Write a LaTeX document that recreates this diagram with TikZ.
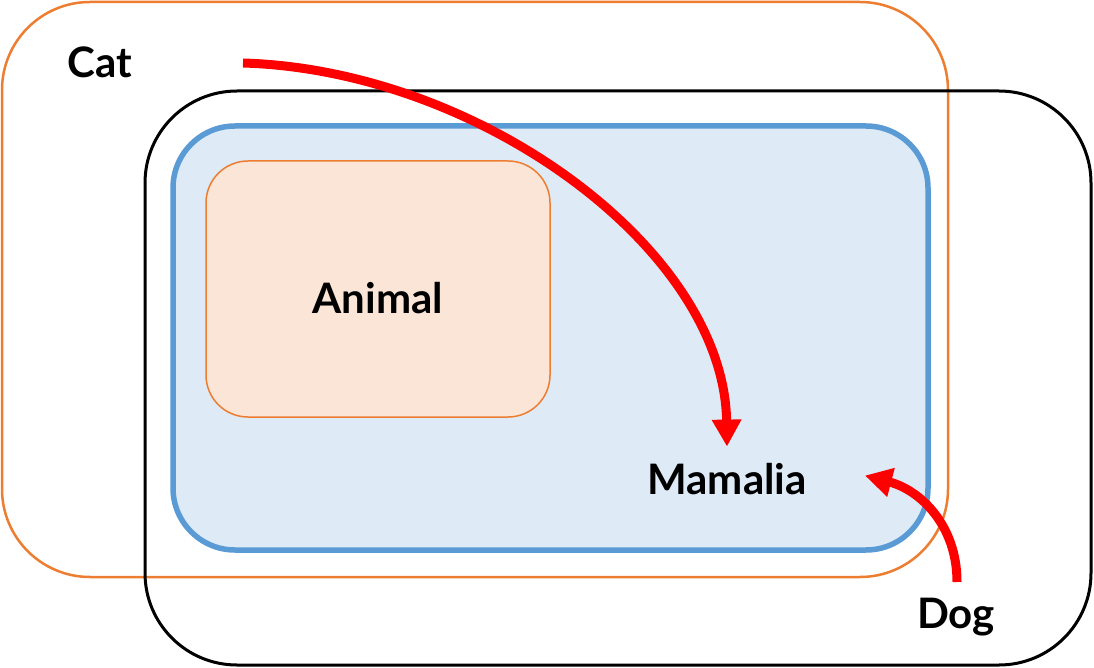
\documentclass[tikz,border=0pt]{standalone}
\usepackage{fontspec}
\setmainfont{Lato}
\usetikzlibrary{arrows.meta}
\definecolor{boxorange}{HTML}{ED7D31}
\definecolor{boxblue}{HTML}{5B9BD5}
\definecolor{fillblue}{HTML}{DEEBF7}
\definecolor{fillpeach}{HTML}{FBE5D6}
\tikzset{
  setbox/.style={draw,rectangle,inner sep=0pt},
  setlabel/.style={anchor=base,inner sep=0pt,font=\fontsize{42}{48}\selectfont\bfseries},
  isarrow/.style={draw=red,line width=9pt,-{Triangle[length=27pt,width=28pt]}}
}
\begin{document}
\begin{tikzpicture}[x=1pt,y=-1pt]
            \useasboundingbox (0,0) rectangle (1094,668);
            % sets
            \node[setbox,draw=boxorange,line width=2.5pt,rounded corners=88pt,
                  minimum width=946pt,minimum height=575pt] (cat) at (475,289.5) {};
            \node[setbox,draw=black,line width=3pt,rounded corners=92pt,
                  minimum width=946pt,minimum height=574pt] (dog) at (618,378) {};
            \node[setbox,draw=boxblue,fill=fillblue,line width=5.5pt,rounded corners=62pt,
                  minimum width=755pt,minimum height=424pt] (mamalia) at (550.5,338) {};
            \node[setbox,draw=boxorange,fill=fillpeach,line width=1.5pt,rounded corners=42pt,
                  minimum width=344pt,minimum height=256pt] (animal) at (378,289) {};
            % labels
            \node[setlabel] (cattext) at (100,78) {Cat};
            \node[setlabel] (animaltext) at (378,313) {Animal};
            \node[setlabel] (mamaliatext) at (727,494) {Mamalia};
            \node[setlabel] (dogtext) at (956,628) {Dog};
            % arrows
            \coordinate (catfrom) at (243,63);
            \coordinate (dogfrom) at (957,582);
            \draw[isarrow] (catfrom) .. controls (480,70) and (724,250) .. ([yshift=16pt]mamaliatext.north);
            \draw[isarrow] (dogfrom) .. controls (957,525) and (920,490) .. ([xshift=58pt,yshift=3pt]mamaliatext.east);
\end{tikzpicture}
\end{document}
